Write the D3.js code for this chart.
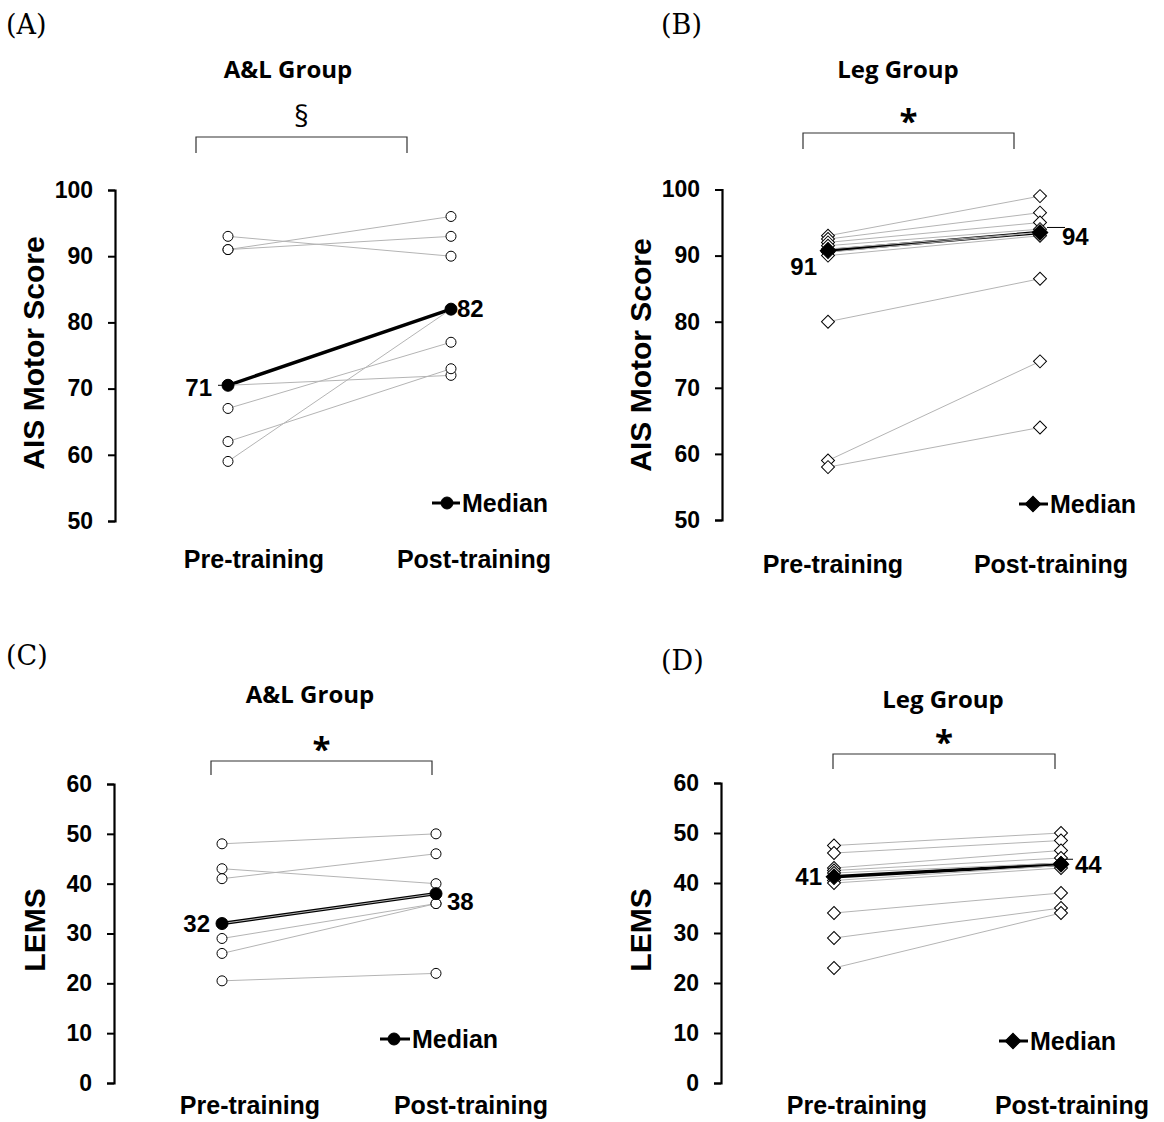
<!DOCTYPE html>
<html>
<head>
<meta charset="utf-8">
<script src="https://cdn.jsdelivr.net/npm/d3@7"></script>
<style>
  html, body { margin: 0; padding: 0; background: #fff; }
  svg { display: block; }
</style>
</head>
<body>
<svg id="chart" width="1164" height="1122"></svg>
<script>
// ---- data ----
const timepoints = ["Pre-training", "Post-training"];

const alAisPre  = [93, 91, 91, 70.5, 67, 62, 59];
const alAisPost = [90, 96, 93, 72, 77, 73, 82];

const legAisPre  = [93, 92.5, 92, 91.5, 91, 90.5, 90, 80, 59, 58];
const legAisPost = [99, 96.5, 95, 94, 93.5, 93.5, 93, 86.5, 74, 64];

const alLemsPre  = [48, 43, 41, 32, 29, 26, 20.5];
const alLemsPost = [50, 40, 46, 38, 36, 36, 22];

const legLemsPre  = [47.5, 46, 43, 42.5, 42, 40.5, 40, 34, 29, 23];
const legLemsPost = [50, 48.5, 46.5, 45, 44, 43.5, 43, 38, 35, 34];

const aisTicks  = [50, 60, 70, 80, 90, 100];
const lemsTicks = [0, 10, 20, 30, 40, 50, 60];

const panelTags   = ["(A)", "(B)", "(C)", "(D)"];
const groupTitles = ["A&L Group", "Leg Group", "A&L Group", "Leg Group"];
const sigMarks    = ["§", "*", "*", "*"];
const yTitles     = ["AIS Motor Score", "AIS Motor Score", "LEMS", "LEMS"];
const legendText  = "Median";

// ---- layout of the four panels ----
const panels = [
  { pre: alAisPre, post: alAisPost, ticks: aisTicks, shape: "circle",
    axisX: 115, yTop: 190, yBot: 521, xPre: 228, xPost: 451,
    tag: [6, 34], title: [288, 78], yTitleX: 44, yTitleY: 353,
    bracket: { x1: 196, x2: 407, top: 137, bot: 153 }, sigY: 127, sigSize: 29,
    catOffset: [26, 23], catY: 568,
    legend: { x1: 432, x2: 460, cx: 447, y: 503 },
    preLabel: { dx: -16, dy: 11, lead: [-10, -3] },
    postLabel: { dx: 6, dy: 8, lead: null } },
  { pre: legAisPre, post: legAisPost, ticks: aisTicks, shape: "diamond",
    axisX: 722, yTop: 189.5, yBot: 520, xPre: 828, xPost: 1040,
    tag: [661, 34], title: [898, 78], yTitleX: 651, yTitleY: 355,
    bracket: { x1: 803, x2: 1014, top: 133, bot: 149 }, sigY: 133, sigSize: 33,
    catOffset: [5, 11], catY: 573,
    legend: { x1: 1019, x2: 1048, cx: 1033, y: 504 },
    preLabel: { dx: -11, dy: 24, lead: null },
    postLabel: { dx: 22, dy: 13, lead: [7, 25] } },
  { pre: alLemsPre, post: alLemsPost, ticks: lemsTicks, shape: "circle",
    axisX: 114, yTop: 784, yBot: 1083, xPre: 222, xPost: 436,
    tag: [6, 665], title: [310, 703], yTitleX: 45, yTitleY: 930,
    bracket: { x1: 211, x2: 432, top: 761, bot: 775 }, sigY: 761, sigSize: 33,
    catOffset: [28, 35], catY: 1114,
    legend: { x1: 380, x2: 410, cx: 394, y: 1039 },
    preLabel: { dx: -12, dy: 8, lead: null },
    postLabel: { dx: 11, dy: 16, lead: null } },
  { pre: legLemsPre, post: legLemsPost, ticks: lemsTicks, shape: "diamond",
    axisX: 721, yTop: 783, yBot: 1083, xPre: 834, xPost: 1061,
    tag: [661, 670], title: [943, 708], yTitleX: 651, yTitleY: 930,
    bracket: { x1: 833, x2: 1055, top: 754, bot: 769 }, sigY: 754, sigSize: 33,
    catOffset: [23, 11], catY: 1114,
    legend: { x1: 999, x2: 1028, cx: 1013, y: 1041 },
    preLabel: { dx: -12, dy: 8, lead: null },
    postLabel: { dx: 14, dy: 9, lead: [-2, 12] } }
];

const svg = d3.select("#chart");
svg.append("rect").attr("width", 1164).attr("height", 1122).attr("fill", "#fff");

const sansBold = "'Liberation Sans', Arial, sans-serif";
const titleFont = "'Open Sans', sans-serif";
const serifFont = "'DejaVu Serif', 'Liberation Serif', serif";

function marker(sel, shape, size, fill) {
  if (shape === "circle") {
    sel.append("circle").attr("r", size).attr("fill", fill)
      .attr("stroke", "#000").attr("stroke-width", 1);
  } else {
    sel.append("path")
      .attr("d", d3.symbol(d3.symbolSquare, size * size * 2)())
      .attr("transform", "rotate(45)")
      .attr("fill", fill).attr("stroke", "#000").attr("stroke-width", 1);
  }
}

panels.forEach((p, i) => {
  const g = svg.append("g");
  const y = d3.scaleLinear().domain(d3.extent(p.ticks)).range([p.yBot, p.yTop]);
  const x = d3.scalePoint().domain(timepoints).range([p.xPre, p.xPost]);

  // panel tag and group title
  g.append("text").attr("x", p.tag[0]).attr("y", p.tag[1])
    .attr("font-family", serifFont).attr("font-size", 27).text(panelTags[i]);
  g.append("text").attr("x", p.title[0]).attr("y", p.title[1])
    .attr("text-anchor", "middle").attr("font-family", titleFont)
    .attr("font-weight", 700).attr("font-size", 24).text(groupTitles[i]);

  // significance bracket
  const b = p.bracket;
  g.append("path")
    .attr("d", `M${b.x1},${b.bot}V${b.top}H${b.x2}V${b.bot}`)
    .attr("fill", "none").attr("stroke", "#333").attr("stroke-width", 1.2);
  g.append("text").attr("x", (b.x1 + b.x2) / 2).attr("y", p.sigY)
    .attr("text-anchor", "middle").attr("font-family", titleFont)
    .attr("font-weight", sigMarks[i] === "*" ? 700 : 400)
    .attr("font-size", p.sigSize).text(sigMarks[i]);

  // y axis
  const axis = g.append("g").attr("transform", `translate(${p.axisX},0)`)
    .call(d3.axisLeft(y).tickValues(p.ticks).tickSize(7).tickPadding(15).tickSizeOuter(7));
  axis.select(".domain").attr("stroke", "#000").attr("stroke-width", 2.2);
  axis.selectAll(".tick line").attr("stroke", "#000").attr("stroke-width", 2);
  axis.selectAll(".tick text").attr("font-family", sansBold).attr("font-weight", 700)
    .attr("font-size", 23).attr("fill", "#000");

  g.append("text")
    .attr("transform", `translate(${p.yTitleX},${p.yTitleY}) rotate(-90)`)
    .attr("text-anchor", "middle").attr("font-family", sansBold)
    .attr("font-weight", 700).attr("font-size", 30).text(yTitles[i]);

  // category labels
  timepoints.forEach((t, k) => {
    g.append("text").attr("x", x(t) + p.catOffset[k]).attr("y", p.catY)
      .attr("text-anchor", "middle").attr("font-family", sansBold)
      .attr("font-weight", 700).attr("font-size", 25).text(t);
  });

  const medPre = d3.median(p.pre), medPost = d3.median(p.post);
  const medSize = p.shape === "circle" ? 6 : 7.8;
  const indSize = p.shape === "circle" ? 5 : 6.5;

  // median line underneath the individual traces
  g.append("line")
    .attr("x1", x(timepoints[0])).attr("y1", y(medPre))
    .attr("x2", x(timepoints[1])).attr("y2", y(medPost))
    .attr("stroke", "#000").attr("stroke-width", 3.4);

  // individual participants
  const pairs = p.pre.map((v, j) => [v, p.post[j]]);
  g.append("g").selectAll("line").data(pairs).join("line")
    .attr("x1", x(timepoints[0])).attr("y1", d => y(d[0]))
    .attr("x2", x(timepoints[1])).attr("y2", d => y(d[1]))
    .attr("stroke", "#b4b4b4").attr("stroke-width", 1);

  pairs.forEach(d => {
    d.forEach((v, k) => {
      const m = g.append("g").attr("transform", `translate(${x(timepoints[k])},${y(v)})`);
      marker(m, p.shape, indSize, "#fff");
    });
  });

  // median markers
  [medPre, medPost].forEach((v, k) => {
    const m = g.append("g").attr("transform", `translate(${x(timepoints[k])},${y(v)})`);
    marker(m, p.shape, medSize, "#000");
  });

  // median value labels
  const fmt = v => String(Math.round(v));
  const pl = p.preLabel, ql = p.postLabel;
  g.append("text").attr("x", x(timepoints[0]) + pl.dx).attr("y", y(medPre) + pl.dy)
    .attr("text-anchor", "end").attr("font-family", sansBold).attr("font-weight", 700)
    .attr("font-size", 24).text(fmt(medPre));
  if (pl.lead) {
    g.append("line").attr("x1", x(timepoints[0]) + pl.lead[0]).attr("x2", x(timepoints[0]) + pl.lead[1])
      .attr("y1", y(medPre)).attr("y2", y(medPre)).attr("stroke", "#000").attr("stroke-width", 1);
  }
  g.append("text").attr("x", x(timepoints[1]) + ql.dx).attr("y", y(medPost) + ql.dy)
    .attr("font-family", sansBold).attr("font-weight", 700)
    .attr("font-size", 24).text(fmt(medPost));
  if (ql.lead) {
    g.append("line").attr("x1", x(timepoints[1]) + ql.lead[0]).attr("x2", x(timepoints[1]) + ql.lead[1])
      .attr("y1", y(medPost) - 5).attr("y2", y(medPost) - 5).attr("stroke", "#000").attr("stroke-width", 1);
  }

  // legend
  const L = p.legend;
  g.append("line").attr("x1", L.x1).attr("x2", L.x2).attr("y1", L.y).attr("y2", L.y)
    .attr("stroke", "#000").attr("stroke-width", 3);
  const lm = g.append("g").attr("transform", `translate(${L.cx},${L.y})`);
  marker(lm, p.shape, medSize, "#000");
  g.append("text").attr("x", L.x2 + 2).attr("y", L.y + 9)
    .attr("font-family", sansBold).attr("font-weight", 700).attr("font-size", 25).text(legendText);
});
</script>
</body>
</html>
